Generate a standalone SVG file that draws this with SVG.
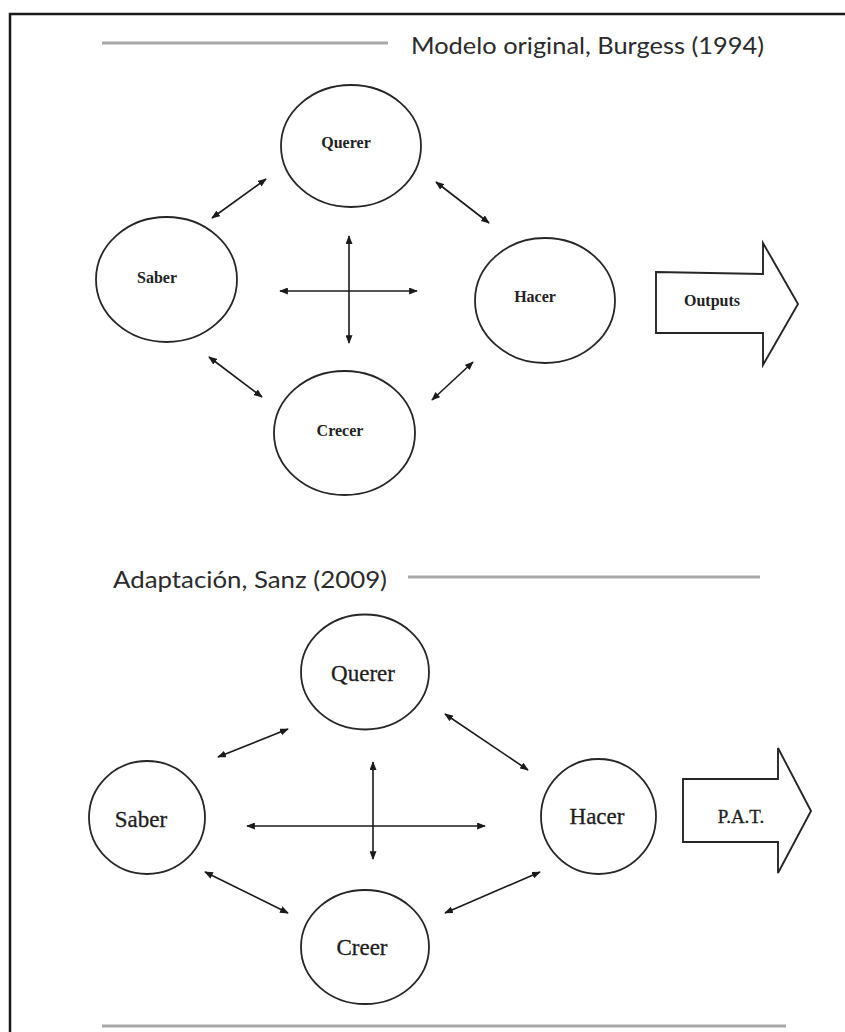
<svg xmlns="http://www.w3.org/2000/svg" width="845" height="1032" viewBox="0 0 845 1032">
  <style>
    .frame { fill: none; stroke: #1a1a1a; stroke-width: 2.5; }
    .rule { stroke: #a8a8a8; stroke-width: 3; }
    .title { font-family: Lato, "Open Sans", sans-serif; font-size: 24px; fill: #2b2b2b; }
    .node { fill: #fff; stroke: #262626; stroke-width: 1.8; }
    .lbl1 { font-family: "Liberation Serif", serif; font-size: 16px; font-weight: bold; fill: #222; text-anchor: middle; }
    .lbl2 { font-family: "Liberation Serif", serif; font-size: 23px; fill: #1e1e1e; text-anchor: middle; stroke: #1e1e1e; stroke-width: 0.3; }
    .link { stroke: #1a1a1a; stroke-width: 1.6; fill: none; marker-start: url(#tip); marker-end: url(#tip); }
    .out { fill: #fff; stroke: #262626; stroke-width: 1.9; stroke-linejoin: miter; }
  </style>
  <defs>
    <marker id="tip" viewBox="0 0 10 8" refX="9" refY="4" markerWidth="9" markerHeight="7" markerUnits="userSpaceOnUse" orient="auto-start-reverse">
      <path d="M0,0 L10,4 L0,8 Z" fill="#1a1a1a"/>
    </marker>
  </defs>

  <rect width="845" height="1032" fill="#fff"/>

  <!-- page frame (top and left edges) -->
  <path class="frame" d="M10,1032 L10,14 L845,14"/>

  <!-- headings -->
  <g id="heading-original">
    <line class="rule" x1="102" y1="43" x2="388" y2="43"/>
    <text class="title" x="411" y="54" textLength="353" lengthAdjust="spacingAndGlyphs">Modelo original, Burgess (1994)</text>
  </g>
  <g id="heading-adaptation">
    <text class="title" x="113" y="588" textLength="274" lengthAdjust="spacingAndGlyphs">Adaptación, Sanz (2009)</text>
    <line class="rule" x1="408" y1="577" x2="760" y2="577"/>
  </g>
  <line class="rule" x1="102" y1="1026" x2="786" y2="1026"/>

  <!-- model 1994 -->
  <g id="m1-querer">
    <ellipse class="node" cx="351" cy="146" rx="70" ry="61"/>
    <text class="lbl1" x="346" y="148">Querer</text>
  </g>
  <g id="m1-saber">
    <ellipse class="node" cx="166.5" cy="279.5" rx="70.5" ry="62.5"/>
    <text class="lbl1" x="157" y="283">Saber</text>
  </g>
  <g id="m1-hacer">
    <ellipse class="node" cx="545" cy="300.5" rx="70" ry="62.5"/>
    <text class="lbl1" x="535" y="302">Hacer</text>
  </g>
  <g id="m1-crecer">
    <ellipse class="node" cx="344.5" cy="433" rx="70.5" ry="62"/>
    <text class="lbl1" x="340" y="436">Crecer</text>
  </g>
  <g id="m1-outputs">
    <path class="out" d="M656,272 L763,274 L763,243 L798,304 L763,365 L763,333 L656,333 Z"/>
    <text class="lbl1" x="712" y="306">Outputs</text>
  </g>

  <!-- model 2009 -->
  <g id="m2-querer">
    <ellipse class="node" cx="365" cy="672" rx="64" ry="57.5"/>
    <text class="lbl2" x="363" y="681">Querer</text>
  </g>
  <g id="m2-saber">
    <ellipse class="node" cx="147" cy="817.5" rx="58" ry="56.5"/>
    <text class="lbl2" x="141" y="827">Saber</text>
  </g>
  <g id="m2-hacer">
    <ellipse class="node" cx="598.5" cy="816.5" rx="57.5" ry="57.5"/>
    <text class="lbl2" x="597" y="824">Hacer</text>
  </g>
  <g id="m2-creer">
    <ellipse class="node" cx="365" cy="947" rx="64" ry="57"/>
    <text class="lbl2" x="362" y="955">Creer</text>
  </g>
  <g id="m2-pat">
    <path class="out" d="M683,779 L778,779 L778,748 L811,811 L778,873 L778,842 L683,842 Z"/>
    <text class="lbl2" x="741" y="823" style="font-size:19px">P.A.T.</text>
  </g>

  <!-- connectors -->
  <g id="connectors">
    <line class="link" x1="212" y1="218" x2="266" y2="179"/>
    <line class="link" x1="436" y1="182" x2="489" y2="223"/>
    <line class="link" x1="209" y1="357" x2="262" y2="397"/>
    <line class="link" x1="432" y1="400" x2="473" y2="362"/>
    <line class="link" x1="280" y1="291" x2="417" y2="291"/>
    <line class="link" x1="349" y1="236" x2="349" y2="343"/>

    <line class="link" x1="218" y1="757" x2="288" y2="729"/>
    <line class="link" x1="445" y1="714" x2="528" y2="770"/>
    <line class="link" x1="205" y1="872" x2="288" y2="913"/>
    <line class="link" x1="445" y1="913" x2="540" y2="872"/>
    <line class="link" x1="247" y1="826" x2="485" y2="826"/>
    <line class="link" x1="373" y1="762" x2="373" y2="859"/>
  </g>
</svg>
